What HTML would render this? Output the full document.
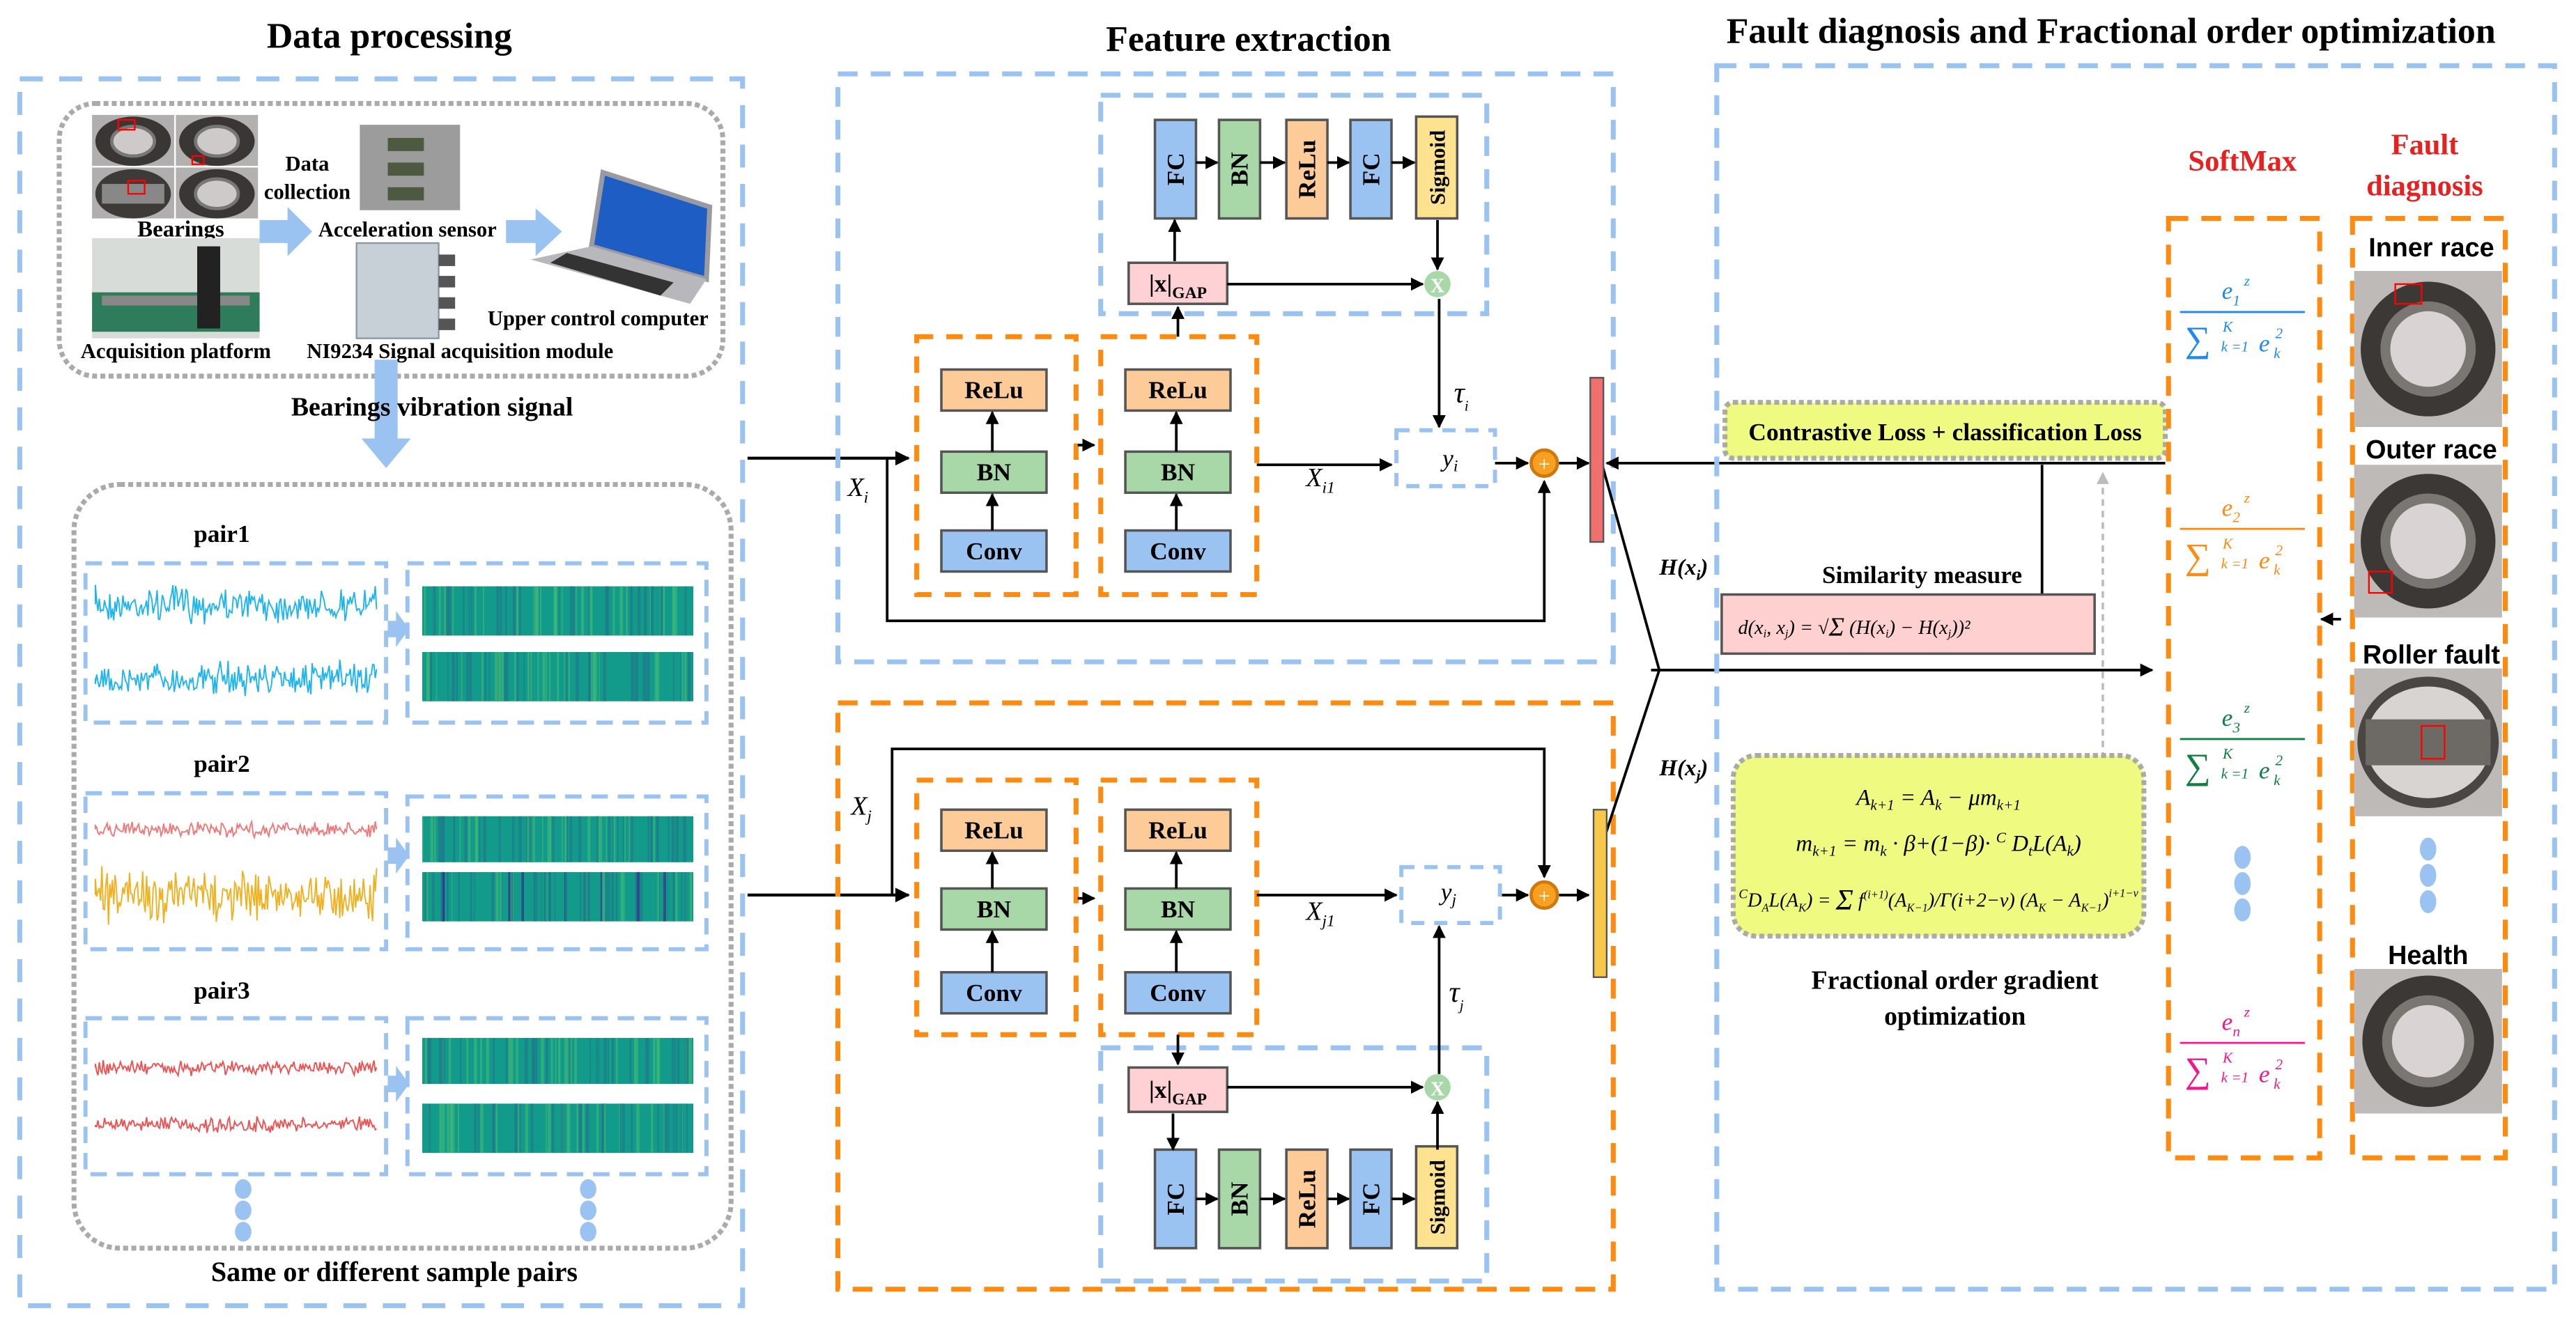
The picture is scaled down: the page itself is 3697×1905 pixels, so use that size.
<!DOCTYPE html>
<html><head><meta charset="utf-8"><style>
html,body{margin:0;padding:0;background:#fff}
svg{display:block}
text{font-family:"Liberation Serif",serif}
.b{font-weight:bold}
.s{font-family:"Liberation Sans",sans-serif;font-weight:bold}
</style></head><body>
<svg id="S" width="3697" height="1905" viewBox="0 0 1568 808" xmlns="http://www.w3.org/2000/svg">
<defs>
<marker id="ah" viewBox="0 0 10 10" refX="9" refY="5" markerWidth="5" markerHeight="5" orient="auto"><path d="M0,0L10,5L0,10z" fill="#000"/></marker>
<marker id="ag" viewBox="0 0 10 10" refX="9" refY="5" markerWidth="5" markerHeight="5" orient="auto"><path d="M0,0L10,5L0,10z" fill="#bbb"/></marker>
</defs>
<!-- titles -->
<text x="237" y="29" font-size="22" class="b" text-anchor="middle">Data processing</text>
<text x="760" y="31" font-size="22" class="b" text-anchor="middle">Feature extraction</text>
<text x="1285" y="26" font-size="22" class="b" text-anchor="middle">Fault diagnosis and Fractional order optimization</text>

<!-- LEFT PANEL -->
<rect x="12" y="48" width="440" height="747" fill="none" stroke="#9ac3f2" stroke-width="3" stroke-dasharray="14,10"/>
<rect x="36" y="63" width="404" height="166" rx="22" fill="none" stroke="#aaa" stroke-width="3" stroke-dasharray="3,2"/>
<!-- bearing photos 55-158 x 70-133 -->
<g>
<rect x="56" y="70" width="50" height="31" fill="#b0aeae"/><rect x="107" y="70" width="50" height="31" fill="#b3b1b0"/>
<rect x="56" y="102" width="50" height="31" fill="#b0aeae"/><rect x="107" y="102" width="50" height="31" fill="#b3b1b0"/>
<ellipse cx="81" cy="86" rx="23" ry="15" fill="#3a3634"/><ellipse cx="81" cy="86" rx="13" ry="9" fill="#cfcaca" stroke="#777" stroke-width="2"/>
<ellipse cx="132" cy="86" rx="23" ry="15" fill="#3a3634"/><ellipse cx="132" cy="86" rx="13" ry="9" fill="#cfcaca" stroke="#777" stroke-width="2"/>
<ellipse cx="81" cy="118" rx="23" ry="15" fill="#3d3a38"/><rect x="62" y="112" width="38" height="12" fill="#888"/>
<ellipse cx="132" cy="118" rx="23" ry="15" fill="#3a3634"/><ellipse cx="132" cy="118" rx="13" ry="9" fill="#cfcaca" stroke="#777" stroke-width="2"/>
<rect x="72" y="73" width="10" height="6" fill="none" stroke="red"/><rect x="117" y="95" width="7" height="5" fill="none" stroke="red"/><rect x="78" y="110" width="10" height="8" fill="none" stroke="red"/>
</g>
<text x="110" y="144" font-size="14" class="b" text-anchor="middle">Bearings</text>
<!-- platform -->
<rect x="56" y="145" width="102" height="61" fill="#d8dcd8"/>
<rect x="56" y="178" width="102" height="24" fill="#2e7c5c"/>
<rect x="62" y="180" width="90" height="6" fill="#888"/>
<rect x="120" y="150" width="14" height="50" fill="#222"/>
<text x="107" y="218" font-size="13" class="b" text-anchor="middle">Acquisition platform</text>
<text x="187" y="104" font-size="13" class="b" text-anchor="middle">Data</text>
<text x="187" y="121" font-size="13" class="b" text-anchor="middle">collection</text>
<!-- sensor -->
<rect x="219" y="76" width="61" height="52" fill="#9d9c9c"/>
<g fill="#4d5a40"><rect x="236" y="84" width="22" height="8"/><rect x="236" y="99" width="22" height="8"/><rect x="236" y="114" width="22" height="8"/></g>
<!-- NI -->
<rect x="217" y="148" width="50" height="58" fill="#c6d0d6" stroke="#8a99a3" stroke-width="1"/>
<g fill="#555"><rect x="267" y="155" width="10" height="7"/><rect x="267" y="168" width="10" height="7"/><rect x="267" y="181" width="10" height="7"/><rect x="267" y="194" width="10" height="7"/></g>
<text x="248" y="144" font-size="13" class="b" text-anchor="middle">Acceleration sensor</text>
<text x="280" y="218" font-size="13" class="b" text-anchor="middle">NI9234 Signal acquisition module</text>
<text x="364" y="198" font-size="13" class="b" text-anchor="middle">Upper control computer</text>
<!-- laptop 321-433 x 102-189 -->
<polygon points="367,105 432,126 430,170 360,150" fill="#1e5dc4" stroke="#9a9aa2" stroke-width="3"/>
<polygon points="360,150 430,170 420,185 323,158" fill="#b8b8bc"/>
<polygon points="345,154 410,172 402,180 335,160" fill="#333"/>
<!-- light blue arrows -->
<polygon points="158,134 175,134 175,126 190,141 175,156 175,148 158,148" fill="#9ac3f2"/>
<polygon points="308,134 326,134 326,127 342,141 326,156 326,148 308,148" fill="#9ac3f2"/>
<polygon points="228,219 242,219 242,267 250,267 235,285 220,267 228,267" fill="#9ac3f2"/>
<text x="263" y="253" font-size="16" class="b" text-anchor="middle">Bearings vibration signal</text>

<rect x="45" y="295" width="400" height="465" rx="28" fill="none" stroke="#aaa" stroke-width="3" stroke-dasharray="3,2"/>
<text x="135" y="330" font-size="15" class="b" text-anchor="middle">pair1</text>
<text x="135" y="470" font-size="15" class="b" text-anchor="middle">pair2</text>
<text x="135" y="608" font-size="15" class="b" text-anchor="middle">pair3</text>
<g fill="none" stroke="#9ac3f2" stroke-width="2.5" stroke-dasharray="10,6">
<rect x="52" y="343" width="183" height="97"/><rect x="248" y="343" width="182" height="97"/>
<rect x="52" y="483" width="183" height="95"/><rect x="248" y="485" width="182" height="93"/>
<rect x="52" y="620" width="183" height="95"/><rect x="248" y="620" width="182" height="95"/>
</g>
<g fill="#9ac3f2">
<polygon points="236,378 241,378 241,372 249,383 241,394 241,388 236,388"/>
<polygon points="236,516 241,516 241,510 249,521 241,532 241,526 236,526"/>
<polygon points="236,655 241,655 241,649 249,660 241,671 241,665 236,665"/>
<ellipse cx="148" cy="724" rx="5" ry="6"/><ellipse cx="148" cy="737" rx="5" ry="6"/><ellipse cx="148" cy="750" rx="5" ry="6"/>
<ellipse cx="358" cy="724" rx="5" ry="6"/><ellipse cx="358" cy="737" rx="5" ry="6"/><ellipse cx="358" cy="750" rx="5" ry="6"/>
</g>
<g id="waves"></g>
<g id="specs"></g>
<text x="240" y="780" font-size="17" class="b" text-anchor="middle">Same or different sample pairs</text>

<!-- MIDDLE -->
<line x1="455" y1="279" x2="553" y2="279" stroke="#000" stroke-width="1.8" marker-end="url(#ah)"/>
<line x1="455" y1="545" x2="553" y2="545" stroke="#000" stroke-width="1.8" marker-end="url(#ah)"/>
<rect x="510" y="45" width="472" height="358" fill="none" stroke="#9ac3f2" stroke-width="3" stroke-dasharray="12,8"/>
<rect x="670" y="58" width="235" height="133" fill="none" stroke="#9ac3f2" stroke-width="3" stroke-dasharray="12,8"/>
<rect x="510" y="428" width="472" height="357" fill="none" stroke="#ff8a10" stroke-width="3" stroke-dasharray="12,8"/>
<rect x="670" y="638" width="235" height="142" fill="none" stroke="#9ac3f2" stroke-width="3" stroke-dasharray="12,8"/>
<g fill="none" stroke="#ff8a10" stroke-width="3" stroke-dasharray="10,8">
<rect x="558" y="205" width="97" height="157"/><rect x="670" y="205" width="95" height="157"/>
<rect x="558" y="475" width="97" height="155"/><rect x="670" y="475" width="95" height="155"/>
</g>
<g id="blocks" stroke="#555" stroke-width="1.5"></g>
<g stroke="#000" stroke-width="1.6" fill="none">
<polyline points="540,279 540,378 940,378 940,293" marker-end="url(#ah)"/>
<line x1="656" y1="271" x2="666" y2="271" marker-end="url(#ah)"/>
<line x1="765" y1="283" x2="847" y2="283" marker-end="url(#ah)"/>
<line x1="717" y1="205" x2="717" y2="187" marker-end="url(#ah)"/>
<line x1="715" y1="159" x2="715" y2="134" marker-end="url(#ah)"/>
<line x1="747" y1="173" x2="866" y2="173" marker-end="url(#ah)"/>
<line x1="875" y1="134" x2="875" y2="164" marker-end="url(#ah)"/>
<line x1="876" y1="182" x2="876" y2="260" marker-end="url(#ah)"/>
<line x1="910" y1="282" x2="930" y2="282" marker-end="url(#ah)"/>
<line x1="949" y1="282" x2="967" y2="282" marker-end="url(#ah)"/>
<polyline points="543,545 543,456 940,456 940,534" marker-end="url(#ah)"/>
<line x1="656" y1="547" x2="666" y2="547" marker-end="url(#ah)"/>
<line x1="765" y1="545" x2="850" y2="545" marker-end="url(#ah)"/>
<line x1="717" y1="630" x2="717" y2="648" marker-end="url(#ah)"/>
<line x1="714" y1="678" x2="714" y2="700" marker-end="url(#ah)"/>
<line x1="747" y1="662" x2="866" y2="662" marker-end="url(#ah)"/>
<line x1="875" y1="700" x2="875" y2="671" marker-end="url(#ah)"/>
<line x1="876" y1="654" x2="876" y2="564" marker-end="url(#ah)"/>
<line x1="913" y1="545" x2="930" y2="545" marker-end="url(#ah)"/>
<line x1="949" y1="545" x2="967" y2="545" marker-end="url(#ah)"/>
<line x1="728" y1="99" x2="741" y2="99" marker-end="url(#ah)"/><line x1="767" y1="99" x2="782" y2="99" marker-end="url(#ah)"/>
<line x1="808" y1="99" x2="821" y2="99" marker-end="url(#ah)"/><line x1="847" y1="99" x2="861" y2="99" marker-end="url(#ah)"/>
<line x1="728" y1="730" x2="741" y2="730" marker-end="url(#ah)"/><line x1="767" y1="730" x2="782" y2="730" marker-end="url(#ah)"/>
<line x1="808" y1="730" x2="821" y2="730" marker-end="url(#ah)"/><line x1="847" y1="730" x2="861" y2="730" marker-end="url(#ah)"/>
<line x1="604" y1="323" x2="604" y2="301" marker-end="url(#ah)"/><line x1="604" y1="275" x2="604" y2="251" marker-end="url(#ah)"/>
<line x1="716" y1="323" x2="716" y2="301" marker-end="url(#ah)"/><line x1="716" y1="275" x2="716" y2="251" marker-end="url(#ah)"/>
<line x1="604" y1="592" x2="604" y2="567" marker-end="url(#ah)"/><line x1="604" y1="541" x2="604" y2="519" marker-end="url(#ah)"/>
<line x1="716" y1="592" x2="716" y2="567" marker-end="url(#ah)"/><line x1="716" y1="541" x2="716" y2="519" marker-end="url(#ah)"/>
<line x1="975" y1="282" x2="1010" y2="408"/><line x1="975" y1="515" x2="1010" y2="408"/>
<line x1="1005" y1="408" x2="1310" y2="408" marker-end="url(#ah)"/>
<line x1="1318" y1="282" x2="978" y2="282" marker-end="url(#ah)"/>
<line x1="1243" y1="362" x2="1243" y2="283"/>
<line x1="1425" y1="377" x2="1413" y2="377" marker-end="url(#ah)"/>
</g>
<line x1="1280" y1="462" x2="1280" y2="288" stroke="#bbb" stroke-width="1.5" stroke-dasharray="4,3" marker-end="url(#ag)"/>
<circle cx="875" cy="173" r="8" fill="#a8d8a8"/><text x="875" y="178" font-size="12" class="b" fill="#fff" text-anchor="middle">X</text>
<circle cx="875" cy="662" r="8" fill="#a8d8a8"/><text x="875" y="667" font-size="12" class="b" fill="#fff" text-anchor="middle">X</text>
<circle cx="940" cy="282" r="8" fill="#f8a020" stroke="#d07810" stroke-width="2"/><text x="940" y="287" font-size="13" fill="#fff" text-anchor="middle">+</text>
<circle cx="940" cy="545" r="8" fill="#f8a020" stroke="#d07810" stroke-width="2"/><text x="940" y="550" font-size="13" fill="#fff" text-anchor="middle">+</text>
<rect x="968" y="230" width="8" height="100" fill="#f07070" stroke="#555"/>
<rect x="970" y="493" width="8" height="102" fill="#f8c848" stroke="#555"/>
<rect x="850" y="262" width="60" height="34" fill="#fff" stroke="#9ac3f2" stroke-width="2.5" stroke-dasharray="8,6"/>
<rect x="853" y="528" width="60" height="34" fill="#fff" stroke="#9ac3f2" stroke-width="2.5" stroke-dasharray="8,6"/>
<text x="878" y="284" font-size="15" font-style="italic">y<tspan font-size="10" dy="3">i</tspan></text>
<text x="877" y="548" font-size="15" font-style="italic">y<tspan font-size="10" dy="3">j</tspan></text>
<text x="516" y="302" font-size="16" font-style="italic">X<tspan font-size="10" dy="4">i</tspan></text>
<text x="518" y="496" font-size="16" font-style="italic">X<tspan font-size="10" dy="4">j</tspan></text>
<text x="795" y="296" font-size="16" font-style="italic">X<tspan font-size="10" dy="4">i1</tspan></text>
<text x="795" y="560" font-size="16" font-style="italic">X<tspan font-size="10" dy="4">j1</tspan></text>
<text x="885" y="245" font-size="18" font-style="italic">τ<tspan font-size="9" dy="5">i</tspan></text>
<text x="882" y="610" font-size="18" font-style="italic">τ<tspan font-size="9" dy="5">j</tspan></text>
<text x="1010" y="350" font-size="14" font-style="italic" class="b">H(x<tspan font-size="9" dy="3">i</tspan><tspan dy="-3">)</tspan></text>
<text x="1010" y="472" font-size="14" font-style="italic" class="b">H(x<tspan font-size="9" dy="3">j</tspan><tspan dy="-3">)</tspan></text>

<!-- RIGHT -->
<rect x="1045" y="40" width="510" height="745" fill="none" stroke="#9ac3f2" stroke-width="3" stroke-dasharray="12,8"/>
<rect x="1050" y="245" width="268" height="34" rx="5" fill="#effa80" stroke="#aaa" stroke-width="3" stroke-dasharray="3,2"/>
<text x="1184" y="268" font-size="15" class="b" text-anchor="middle">Contrastive Loss + classification Loss</text>
<text x="1170" y="355" font-size="15" class="b" text-anchor="middle">Similarity measure</text>
<rect x="1048" y="362" width="227" height="36" fill="#ffd0d0" stroke="#555" stroke-width="1.5"/>
<text x="1058" y="386" font-size="12" font-style="italic">d(x<tspan font-size="7" dy="2">i</tspan><tspan dy="-2">, x</tspan><tspan font-size="7" dy="2">j</tspan><tspan dy="-2">) = √</tspan><tspan font-size="16" dy="1">Σ</tspan><tspan dy="-1"> (H(x</tspan><tspan font-size="7" dy="2">i</tspan><tspan dy="-2">) − H(x</tspan><tspan font-size="7" dy="2">j</tspan><tspan dy="-2">))²</tspan></text>
<rect x="1055" y="460" width="250" height="110" rx="14" fill="#effa80" stroke="#aaa" stroke-width="3" stroke-dasharray="3,2"/>
<text x="1180" y="490" font-size="14" font-style="italic" text-anchor="middle">A<tspan font-size="9" dy="3">k+1</tspan><tspan dy="-3"> = A</tspan><tspan font-size="9" dy="3">k</tspan><tspan dy="-3"> − μm</tspan><tspan font-size="9" dy="3">k+1</tspan></text>
<text x="1180" y="518" font-size="14" font-style="italic" text-anchor="middle">m<tspan font-size="9" dy="3">k+1</tspan><tspan dy="-3"> = m</tspan><tspan font-size="9" dy="3">k</tspan><tspan dy="-3"> · β+(1−β)· </tspan><tspan font-size="9" dy="-5">C</tspan><tspan dy="5"> D</tspan><tspan font-size="9" dy="3">t</tspan><tspan dy="-3">L(A</tspan><tspan font-size="9" dy="3">k</tspan><tspan dy="-3">)</tspan></text>
<text x="1180" y="552" font-size="12" font-style="italic" text-anchor="middle"><tspan font-size="8" dy="-5">C</tspan><tspan dy="5">D</tspan><tspan font-size="7" dy="3">A</tspan><tspan dy="-3">L(A</tspan><tspan font-size="7" dy="3">K</tspan><tspan dy="-3">) = </tspan><tspan font-size="18" dy="2">Σ</tspan><tspan dy="-2"> f</tspan><tspan font-size="7" dy="-5">(i+1)</tspan><tspan dy="5">(A</tspan><tspan font-size="7" dy="3">K−1</tspan><tspan dy="-3">)/Γ(i+2−v) (A</tspan><tspan font-size="7" dy="3">K</tspan><tspan dy="-3"> − A</tspan><tspan font-size="7" dy="3">K−1</tspan><tspan dy="-3">)</tspan><tspan font-size="7" dy="-6">i+1−v</tspan></text>
<text x="1190" y="602" font-size="16" class="b" text-anchor="middle">Fractional order gradient</text>
<text x="1190" y="624" font-size="16" class="b" text-anchor="middle">optimization</text>

<text x="1365" y="104" font-size="18" class="b" fill="#e82020" text-anchor="middle">SoftMax</text>
<text x="1476" y="94" font-size="18" class="b" fill="#e82020" text-anchor="middle">Fault</text>
<text x="1476" y="119" font-size="18" class="b" fill="#e82020" text-anchor="middle">diagnosis</text>
<rect x="1320" y="133" width="92" height="572" fill="none" stroke="#ff8a10" stroke-width="3" stroke-dasharray="12,8"/>
<rect x="1432" y="133" width="93" height="572" fill="none" stroke="#ff8a10" stroke-width="3" stroke-dasharray="12,8"/>
<g id="fracs" font-style="italic"></g>
<g fill="#9ac3f2">
<ellipse cx="1365" cy="522" rx="5" ry="7"/><ellipse cx="1365" cy="538" rx="5" ry="7"/><ellipse cx="1365" cy="554" rx="5" ry="7"/>
<ellipse cx="1478" cy="517" rx="5" ry="7"/><ellipse cx="1478" cy="533" rx="5" ry="7"/><ellipse cx="1478" cy="549" rx="5" ry="7"/>
</g>
<g class="s" font-size="16" text-anchor="middle">
<text x="1480" y="156" class="s">Inner race</text><text x="1480" y="279" class="s">Outer race</text>
<text x="1480" y="404" class="s">Roller fault</text><text x="1478" y="587" class="s">Health</text>
</g>
<g id="photos"></g>
</svg>
<script>
(function(){
var NS="http://www.w3.org/2000/svg";
function el(p,t,a,txt){var e=document.createElementNS(NS,t);for(var k in a)e.setAttribute(k,a[k]);if(txt)e.textContent=txt;document.getElementById(p).appendChild(e);return e;}
var seed=7;function r(){seed=(seed*16807)%2147483647;return seed/2147483647;}
function wave(y,amp,col){var d="M58,"+y;for(var x=58;x<=230;x+=0.8){d+="L"+x.toFixed(1)+","+(y+(r()-0.5)*2*amp*(0.4+r())).toFixed(1);}el("waves","path",{d:d,fill:"none",stroke:col,"stroke-width":0.8});}
wave(368,9,"#1eb4f0");wave(413,9,"#1eb4f0");wave(505,4,"#f07878");wave(545,13,"#f0b020");wave(650,4,"#f05050");wave(685,4,"#f05050");
function spec(y,h,purple){el("specs","rect",{x:257,y:y,width:165,height:h,fill:"#129a8a"});for(var i=0;i<60;i++){var x=257+r()*163;var c=r()<0.5?"#1f7a8c":(purple&&r()<0.5?"#3b2a8a":"#3cb878");el("specs","rect",{x:x.toFixed(1),y:y,width:(0.5+r()*1.5).toFixed(1),height:h,fill:c,opacity:0.7});}}
spec(357,30);spec(397,30);spec(497,28);spec(531,30,true);spec(632,28);spec(672,30);
function blk(x,y,w,h,fill,t,vert,fs){el("blocks","rect",{x:x,y:y,width:w,height:h,fill:fill});var tx=el("blocks","text",{x:x+w/2,y:y+h/2+5,"font-size":fs||15,"class":"b","text-anchor":"middle",stroke:"none"},t);if(vert){tx.setAttribute("transform","rotate(-90 "+(x+w/2)+" "+(y+h/2)+")");tx.setAttribute("y",y+h/2+5);}return tx;}
var B="#9ac3f2",G="#a8d8a8",O="#fdcb98",Y="#fde38f",P="#ffd0d4";
[[73],[700]].forEach(function(a){var y=a[0];blk(703,y,25,60,B,"FC",1);blk(742,y,25,60,G,"BN",1);blk(783,y,25,60,O,"ReLu",1);blk(822,y,25,60,B,"FC",1);var s=blk(862,y-2,25,62,Y,"Sigmoid",1,13);s.setAttribute("font-family","Liberation Sans");});
var g1=blk(687,160,60,25,P,"|x|");var g2=blk(687,650,60,27,P,"|x|");
[g1,g2].forEach(function(g){var t=document.createElementNS(NS,"tspan");t.setAttribute("font-size","10");t.setAttribute("dy","4");t.textContent="GAP";g.appendChild(t);});
[[573,225,275,323],[685,225,275,323],[573,493,541,592],[685,493,541,592]].forEach(function(a){blk(a[0],a[1],64,25,O,"ReLu");blk(a[0],a[2],64,25,G,"BN");blk(a[0],a[3],64,25,B,"Conv");});
var fr=[[190,"1","#1e8af0"],[322,"2","#ff8a10"],[450,"3","#108040"],[635,"n","#f0188c"]];
fr.forEach(function(f){var y=f[0],c=f[2];var t=el("fracs","text",{x:1358,y:y-8,"font-size":15,fill:c,"text-anchor":"middle","font-family":"Liberation Serif"},"e");var s=document.createElementNS(NS,"tspan");s.setAttribute("font-size","9");s.setAttribute("dy","4");s.textContent=f[1];t.appendChild(s);
el("fracs","text",{x:1366,y:y-16,"font-size":9,fill:c},"z");
el("fracs","line",{x1:1327,y1:y,x2:1403,y2:y,stroke:c,"stroke-width":1.2});
el("fracs","text",{x:1330,y:y+24,"font-size":22,fill:c,"font-style":"normal"},"∑");
el("fracs","text",{x:1353,y:y+12,"font-size":9,fill:c},"K");
el("fracs","text",{x:1352,y:y+24,"font-size":9,fill:c},"k =1");
el("fracs","text",{x:1375,y:y+24,"font-size":15,fill:c},"e");
el("fracs","text",{x:1385,y:y+16,"font-size":9,fill:c},"2");
el("fracs","text",{x:1384,y:y+28,"font-size":9,fill:c},"k");});
[[165,95,0],[283,93,1],[407,90,2],[590,88,0]].forEach(function(p){var y=p[0],h=p[1];el("photos","rect",{x:1433,y:y,width:90,height:h,fill:"#bdbab8"});var cx=1478,cy=y+h/2;
if(p[2]==2){el("photos","ellipse",{cx:cx,cy:cy,rx:43,ry:40,fill:"#4a4644"});el("photos","ellipse",{cx:cx,cy:cy,rx:38,ry:34,fill:"#d8d4d2"});el("photos","rect",{x:1440,y:cy-14,width:76,height:28,fill:"#6d6a66"});el("photos","rect",{x:1474,y:cy-10,width:14,height:20,fill:"none",stroke:"red"});}
else{el("photos","circle",{cx:cx,cy:cy,r:Math.min(h,90)/2-4,fill:"#3c3836"});el("photos","circle",{cx:cx,cy:cy,r:Math.min(h,90)/2-16,fill:"#7a7672"});el("photos","circle",{cx:cx,cy:cy,r:Math.min(h,90)/2-22,fill:"#d9d4d3"});}
if(p[0]==165)el("photos","rect",{x:1458,y:173,width:16,height:12,fill:"none",stroke:"red"});
if(p[0]==283)el("photos","rect",{x:1442,y:348,width:14,height:13,fill:"none",stroke:"red"});});
})();
</script>
</body></html>
